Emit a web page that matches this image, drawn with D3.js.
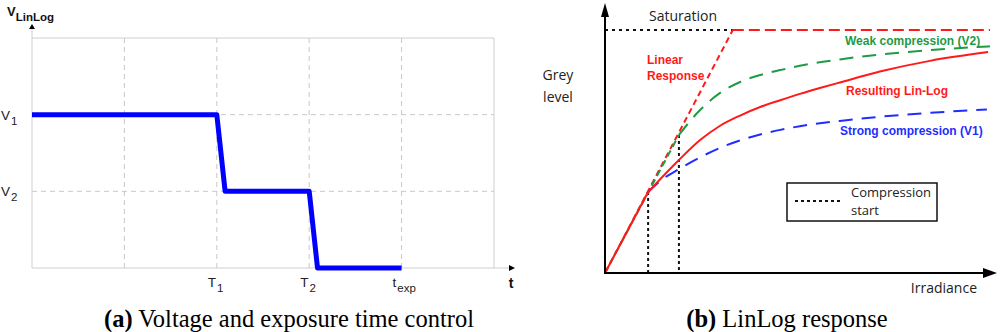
<!DOCTYPE html>
<html>
<head>
<meta charset="utf-8">
<script src="https://cdn.jsdelivr.net/npm/d3@7"></script>
<style>
  body { margin: 0; background: #fff; }
  svg { display: block; }
</style>
</head>
<body>
<svg id="chart" width="1000" height="332"></svg>
<script>
// (a) voltage / exposure time control
const timeGrid = [0, 1, 2, 3, 4, 5];
const voltGrid = [0, 1, 2, 3];
const timeLabels = [
  { t: 2, base: "T", sub: "1" },
  { t: 3, base: "T", sub: "2" },
  { t: 4, base: "t", sub: "exp" }
];
const voltLabels = [
  { v: 2, base: "V", sub: "1" },
  { v: 1, base: "V", sub: "2" }
];
const controlTime = [0, 2, 2.09, 3, 3.09, 4];
const controlVolt = [2, 2, 1, 1, 0, 0];

// (b) LinLog response (irradiance 0-100, grey level 0-100 = saturation)
const kneeX = 33.2;
const compressionStart = [
  { x: 11.2, y: 33.3 },
  { x: 19.2, y: 56.8 }
];
const strongX = [11.2, 14.3, 19.5, 24.7, 29.9, 35.1, 40.3, 45.5, 50.6, 61.0, 71.4, 84.4, 99.2];
const strongY = [33.3, 37.8, 43.0, 47.6, 51.5, 54.6, 57.0, 58.9, 60.4, 62.6, 64.3, 65.9, 67.3];
const resultX = [11.2, 19.2, 24.7, 29.9, 35.1, 40.3, 45.5, 50.6, 55.8, 61.0, 71.4, 84.4, 99.5];
const resultY = [33.3, 46.5, 54.7, 60.6, 64.8, 68.3, 71.1, 73.7, 76.1, 78.4, 82.9, 87.3, 90.9];
const weakX = [19.2, 24.7, 29.9, 35.1, 40.3, 45.5, 50.6, 61.0, 71.4, 84.4, 100];
const weakY = [56.8, 67.1, 74.1, 78.6, 81.5, 83.5, 85.3, 87.9, 89.9, 91.7, 93.3];

const svg = d3.select("#chart");
const sans = "Liberation Sans, Arial, sans-serif";
const open = "Open Sans, sans-serif";
const serif = "Liberation Serif, Times New Roman, serif";

// ---------- left panel ----------
const xT = d3.scaleLinear().domain([0, 5]).range([32, 494]);
const yV = d3.scaleLinear().domain([0, 3]).range([268, 38]);
const left = svg.append("g");

left.selectAll(".vgrid")
  .data(timeGrid.filter(d => d > 0 && d < 5))
  .enter().append("line")
  .attr("x1", d => xT(d)).attr("x2", d => xT(d))
  .attr("y1", yV(3)).attr("y2", yV(0))
  .attr("stroke", "#c8c8c8").attr("stroke-dasharray", "5,4");

left.selectAll(".hgrid")
  .data(voltGrid.filter(d => d > 0 && d < 3))
  .enter().append("line")
  .attr("x1", xT(0)).attr("x2", xT(5))
  .attr("y1", d => yV(d)).attr("y2", d => yV(d))
  .attr("stroke", "#c8c8c8").attr("stroke-dasharray", "5,4");

// frame
left.append("line").attr("x1", xT(0)).attr("x2", xT(5)).attr("y1", yV(3)).attr("y2", yV(3)).attr("stroke", "#cfcfcf");
left.append("line").attr("x1", xT(5)).attr("x2", xT(5)).attr("y1", yV(3)).attr("y2", yV(0)).attr("stroke", "#cfcfcf");
left.append("line").attr("x1", xT(0)).attr("x2", xT(0)).attr("y1", yV(0)).attr("y2", yV(3) - 9).attr("stroke", "#cfcfcf");
left.append("line").attr("x1", xT(0)).attr("x2", xT(5) + 16).attr("y1", yV(0)).attr("y2", yV(0)).attr("stroke", "#cfcfcf");
left.append("path")
  .attr("d", `M${xT(0) - 3},${yV(3) - 9} L${xT(0)},${yV(3) - 14} L${xT(0) + 3},${yV(3) - 9} Z`)
  .attr("fill", "#000");
left.append("path")
  .attr("d", `M${xT(5) + 15},${yV(0) - 3} L${xT(5) + 21},${yV(0)} L${xT(5) + 15},${yV(0) + 3} Z`)
  .attr("fill", "#000");

left.append("path")
  .datum(controlTime.map((t, i) => [t, controlVolt[i]]))
  .attr("d", d3.line().x(d => xT(d[0])).y(d => yV(d[1])))
  .attr("fill", "none").attr("stroke", "#0000ff").attr("stroke-width", 5)
  .attr("stroke-linejoin", "round");

const tl = left.selectAll(".tlab").data(timeLabels).enter().append("text")
  .attr("x", d => xT(d.t) - 9).attr("y", yV(0) + 19)
  .attr("font-family", sans).attr("font-size", 13.5).attr("fill", "#222");
tl.append("tspan").text(d => d.base);
tl.append("tspan").attr("dy", 5).attr("dx", 1).attr("font-size", 11.5).text(d => d.sub);

const vl = left.selectAll(".vlab").data(voltLabels).enter().append("text")
  .attr("x", 1).attr("y", d => yV(d.v) + 5)
  .attr("font-family", sans).attr("font-size", 13.5).attr("fill", "#222");
vl.append("tspan").text(d => d.base);
vl.append("tspan").attr("dy", 5).attr("dx", 1).attr("font-size", 11.5).text(d => d.sub);

const yl = left.append("text").attr("x", 7).attr("y", 16)
  .attr("font-family", sans).attr("font-weight", "bold").attr("fill", "#111");
yl.append("tspan").attr("font-size", 13).text("V");
yl.append("tspan").attr("dy", 5).attr("font-size", 11.5).text("LinLog");

left.append("text").attr("x", xT(5) + 17).attr("y", yV(0) + 20)
  .attr("text-anchor", "middle").attr("font-family", sans).attr("font-weight", "bold")
  .attr("font-size", 14).attr("fill", "#111").text("t");

const capA = left.append("text").attr("x", 289).attr("y", 327).attr("text-anchor", "middle")
  .attr("font-family", serif).attr("font-size", 24.5).attr("fill", "#000");
capA.append("tspan").attr("font-weight", "bold").text("(a)");
capA.append("tspan").text(" Voltage and exposure time control");

// ---------- right panel ----------
const xI = d3.scaleLinear().domain([0, 100]).range([605, 990]);
const yG = d3.scaleLinear().domain([0, 100]).range([273, 30]);
const right = svg.append("g");
const line = d3.line().x(d => xI(d[0])).y(d => yG(d[1]));
const smooth = d3.line().x(d => xI(d[0])).y(d => yG(d[1])).curve(d3.curveMonotoneX);
const zip = (xs, ys) => xs.map((x, i) => [x, ys[i]]);

// saturation
right.append("path").datum([[0, 100], [kneeX, 100]]).attr("d", line)
  .attr("fill", "none").attr("stroke", "#111").attr("stroke-width", 2).attr("stroke-dasharray", "3,4");
right.append("path").datum([[kneeX, 100], [100, 100]]).attr("d", line)
  .attr("fill", "none").attr("stroke", "#ff1a1a").attr("stroke-width", 2).attr("stroke-dasharray", "11,5");

// compression start markers
right.selectAll(".cs").data(compressionStart).enter().append("line")
  .attr("x1", d => xI(d.x)).attr("x2", d => xI(d.x))
  .attr("y1", d => yG(d.y)).attr("y2", yG(0))
  .attr("stroke", "#111").attr("stroke-width", 2).attr("stroke-dasharray", "3,3");

// linear response
right.append("path").datum([[0, 0], [kneeX, 100]]).attr("d", line)
  .attr("fill", "none").attr("stroke", "#ff1a1a").attr("stroke-width", 2).attr("stroke-dasharray", "6,4");

// weak compression (V2)
right.append("path").datum([[0, 0], [weakX[0], weakY[0]]]).attr("d", line)
  .attr("fill", "none").attr("stroke", "#1f9a45").attr("stroke-width", 2).attr("stroke-dasharray", "7,4");
right.append("path").datum(zip(weakX, weakY)).attr("d", smooth)
  .attr("fill", "none").attr("stroke", "#1f9a45").attr("stroke-width", 2).attr("stroke-dasharray", "14,9");

// strong compression (V1)
right.append("path").datum(zip(strongX, strongY)).attr("d", smooth)
  .attr("fill", "none").attr("stroke", "#1f2dff").attr("stroke-width", 2).attr("stroke-dasharray", "14,9");

// resulting lin-log
right.append("path").datum([[0, 0], [resultX[0], resultY[0]]]).attr("d", line)
  .attr("fill", "none").attr("stroke", "#ff1a1a").attr("stroke-width", 2);
right.append("path").datum(zip(resultX, resultY)).attr("d", smooth)
  .attr("fill", "none").attr("stroke", "#ff1a1a").attr("stroke-width", 2);

// axes
right.append("line").attr("x1", xI(0)).attr("x2", xI(0)).attr("y1", yG(0) + 1).attr("y2", 16)
  .attr("stroke", "#000").attr("stroke-width", 2);
right.append("path").attr("d", `M${xI(0) - 4},17 L${xI(0)},3 L${xI(0) + 4},17 Z`).attr("fill", "#000");
right.append("line").attr("x1", xI(0) - 1).attr("x2", 984).attr("y1", yG(0)).attr("y2", yG(0))
  .attr("stroke", "#000").attr("stroke-width", 2);
right.append("path").attr("d", `M983,${yG(0) - 5} L997,${yG(0)} L983,${yG(0) + 5} Z`).attr("fill", "#000");

// text
right.append("text").attr("x", 683).attr("y", 21).attr("text-anchor", "middle")
  .attr("font-family", open).attr("font-size", 14).attr("fill", "#222").text("Saturation");
right.append("text").attr("x", 558).attr("y", 80).attr("text-anchor", "middle")
  .attr("font-family", open).attr("font-size", 14).attr("fill", "#222").text("Grey");
right.append("text").attr("x", 558).attr("y", 102).attr("text-anchor", "middle")
  .attr("font-family", open).attr("font-size", 14).attr("fill", "#222").text("level");
right.append("text").attr("x", 977).attr("y", 293).attr("text-anchor", "end")
  .attr("font-family", open).attr("font-size", 14).attr("fill", "#222").text("Irradiance");

const bold = (x, y, txt, col) => right.append("text").attr("x", x).attr("y", y)
  .attr("font-family", sans).attr("font-weight", "bold").attr("font-size", 12).attr("fill", col).text(txt);
bold(647, 64, "Linear", "#ff1a1a");
bold(647, 80, "Response", "#ff1a1a");
bold(845, 45, "Weak compression (V2)", "#1f9a45");
bold(846, 95, "Resulting Lin-Log", "#ff1a1a");
bold(840, 135, "Strong compression (V1)", "#1f2dff");

// legend
right.append("rect").attr("x", 787).attr("y", 183).attr("width", 150).attr("height", 38)
  .attr("fill", "#fff").attr("stroke", "#111").attr("stroke-width", 1.5);
right.append("line").attr("x1", 795).attr("x2", 843).attr("y1", 201).attr("y2", 201)
  .attr("stroke", "#111").attr("stroke-width", 2).attr("stroke-dasharray", "3,3");
right.append("text").attr("x", 851).attr("y", 197).attr("font-family", open).attr("font-size", 13)
  .attr("fill", "#222").text("Compression");
right.append("text").attr("x", 851).attr("y", 215).attr("font-family", open).attr("font-size", 13)
  .attr("fill", "#222").text("start");

const capB = right.append("text").attr("x", 787).attr("y", 327).attr("text-anchor", "middle")
  .attr("font-family", serif).attr("font-size", 24.5).attr("fill", "#000");
capB.append("tspan").attr("font-weight", "bold").text("(b)");
capB.append("tspan").text(" LinLog response");
</script>
</body>
</html>
